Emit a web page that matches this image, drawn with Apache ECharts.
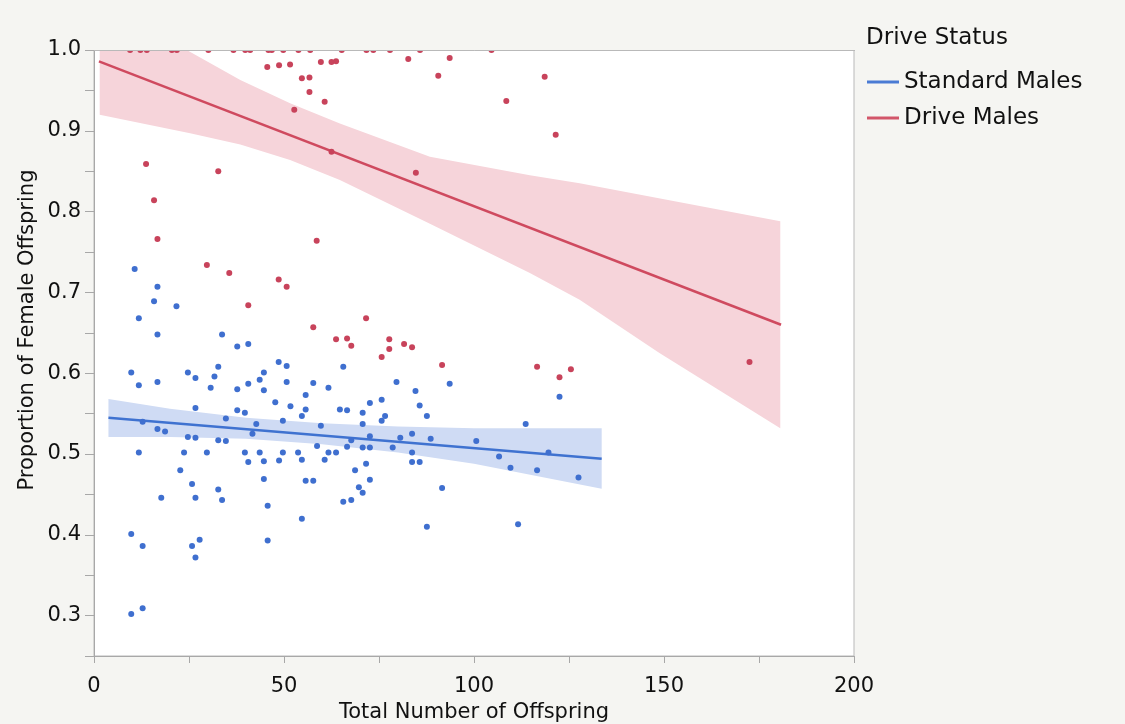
<!DOCTYPE html>
<html>
<head>
<meta charset="utf-8">
<title>Proportion of Female Offspring vs Total Number of Offspring</title>
<script src="https://cdn.jsdelivr.net/npm/echarts@6/dist/echarts.min.js"></script>
<style>
  html, body { margin: 0; padding: 0; background: #f5f5f2; }
  #chart { width: 1125px; height: 724px; }
</style>
</head>
<body>
<div id="chart"></div>
<script>
// Tick values
const xLabelTicks = [0, 50, 100, 150, 200];
const xTickMarks = [0, 25, 50, 75, 100, 125, 150, 175, 200];
const yLabelTicks = [0.3, 0.4, 0.5, 0.6, 0.7, 0.8, 0.9, 1.0];
const yTickMarks = [0.25, 0.3, 0.35, 0.4, 0.45, 0.5, 0.55, 0.6, 0.65, 0.7, 0.75, 0.8, 0.85, 0.9, 0.95, 1.0];

// Group names
const groupNames = ['Standard Males', 'Drive Males'];

// Standard males: [total offspring, proportion female]
const standardMales = [
  [10.7, 0.729], [16.7, 0.707], [15.8, 0.689], [21.7, 0.683], [11.8, 0.668], [16.7, 0.648],
  [33.7, 0.648], [37.7, 0.633], [40.6, 0.636], [48.6, 0.614], [50.7, 0.609], [65.6, 0.608],
  [9.8, 0.601], [11.8, 0.585], [16.7, 0.589], [24.7, 0.601], [26.7, 0.594], [32.7, 0.608],
  [31.7, 0.596], [30.7, 0.582], [37.7, 0.580], [40.6, 0.587], [44.7, 0.601], [43.6, 0.592],
  [44.7, 0.579], [50.7, 0.589], [57.7, 0.588], [61.7, 0.582], [55.7, 0.573], [47.7, 0.564],
  [51.7, 0.559], [55.7, 0.555], [54.7, 0.547], [26.7, 0.557], [37.7, 0.554], [39.7, 0.551],
  [34.7, 0.544], [12.8, 0.540], [16.7, 0.531], [18.7, 0.528], [42.7, 0.537], [41.7, 0.525],
  [49.7, 0.541], [59.7, 0.535], [64.7, 0.555], [66.6, 0.554], [72.6, 0.563], [70.7, 0.551],
  [70.7, 0.537], [75.7, 0.541], [67.7, 0.517], [72.6, 0.522], [24.7, 0.521], [26.7, 0.520],
  [32.7, 0.517], [34.7, 0.516], [11.8, 0.502], [23.7, 0.502], [29.7, 0.502], [39.7, 0.502],
  [43.6, 0.502], [49.7, 0.502], [53.7, 0.502], [58.7, 0.510], [61.7, 0.502], [63.7, 0.502],
  [66.6, 0.509], [70.7, 0.508], [72.6, 0.508], [40.6, 0.490], [44.7, 0.491], [48.7, 0.492],
  [54.7, 0.493], [60.7, 0.493], [71.6, 0.488], [22.7, 0.480], [68.7, 0.480], [44.7, 0.469],
  [55.7, 0.467], [57.7, 0.467], [72.6, 0.468], [25.8, 0.463], [26.7, 0.446], [17.7, 0.446],
  [32.7, 0.456], [33.7, 0.443], [45.7, 0.436], [69.7, 0.459], [70.7, 0.452], [65.6, 0.441],
  [67.7, 0.443], [54.7, 0.420], [9.8, 0.401], [12.8, 0.386], [25.8, 0.386], [27.8, 0.394],
  [26.7, 0.372], [45.7, 0.393], [9.8, 0.302], [12.8, 0.309], [79.6, 0.589], [93.6, 0.587],
  [84.6, 0.578], [75.7, 0.567], [85.7, 0.560], [76.6, 0.547], [87.6, 0.547], [113.6, 0.537],
  [122.5, 0.571], [83.7, 0.525], [80.6, 0.520], [88.6, 0.519], [100.6, 0.516], [78.6, 0.508],
  [83.7, 0.502], [119.6, 0.502], [106.6, 0.497], [83.7, 0.490], [85.7, 0.490], [109.6, 0.483],
  [116.6, 0.480], [127.5, 0.471], [91.6, 0.458], [87.6, 0.410], [111.6, 0.413]
];

// Drive males: [total offspring, proportion female]
const driveMales = [
  [45.6, 0.979], [48.7, 0.981], [51.6, 0.982], [54.7, 0.965], [56.7, 0.966], [56.7, 0.948],
  [52.7, 0.926], [59.7, 0.985], [62.5, 0.985], [63.7, 0.986], [60.7, 0.936], [62.5, 0.874],
  [82.7, 0.989], [90.6, 0.968], [93.6, 0.990], [13.7, 0.859], [32.7, 0.850], [15.8, 0.814],
  [84.7, 0.848], [118.6, 0.967], [108.5, 0.937], [121.5, 0.895], [16.7, 0.766], [58.6, 0.764],
  [29.7, 0.734], [35.6, 0.724], [48.6, 0.716], [50.7, 0.707], [40.6, 0.684], [71.6, 0.668],
  [57.7, 0.657], [63.7, 0.642], [66.6, 0.643], [67.7, 0.634], [77.7, 0.642], [77.7, 0.630],
  [75.7, 0.620], [81.6, 0.636], [83.7, 0.632], [91.6, 0.610], [116.6, 0.608], [122.5, 0.595],
  [125.5, 0.605], [172.5, 0.614],
  [9.5, 1.0], [12.2, 1.0], [13.9, 1.0], [20.5, 1.0], [21.8, 1.0], [30.1, 1.0], [36.7, 1.0],
  [39.8, 1.0], [41.1, 1.0], [45.9, 1.0], [46.8, 1.0], [49.8, 1.0], [53.8, 1.0], [56.9, 1.0],
  [65.2, 1.0], [71.7, 1.0], [73.5, 1.0], [77.9, 1.0], [85.8, 1.0], [104.6, 1.0]
];

// Fitted lines (end points)
const standardFit = [[3.8, 0.545], [133.6, 0.494]];
const driveFit = [[1.3, 0.986], [180.8, 0.660]];

// Confidence band edges
const standardUpper = [[3.8, 0.568], [20, 0.556], [40, 0.545], [60, 0.538], [80, 0.534], [100, 0.532], [133.6, 0.532]];
const standardLower = [[3.8, 0.521], [20, 0.521], [40, 0.519], [60, 0.512], [80, 0.502], [100, 0.488], [133.6, 0.457]];
const driveUpper = [[1.5, 1.05], [24.4, 1.0], [38.5, 0.963], [51.6, 0.934], [64.7, 0.909], [88.4, 0.868], [114.7, 0.845], [127.8, 0.835], [180.6, 0.788]];
const driveLower = [[1.5, 0.920], [25.3, 0.897], [38.5, 0.883], [51.6, 0.864], [64.7, 0.839], [88.4, 0.785], [114.7, 0.724], [127.8, 0.691], [148.8, 0.625], [180.6, 0.532]];

const BLUE = '#3f6fcf';
const RED = '#c8435b';
const FONT = 'DejaVu Sans';
const BG = '#f5f5f2';

function bandRenderer(upper, lower, fill) {
  return function (params, api) {
    const pts = upper.map(p => api.coord(p)).concat(lower.slice().reverse().map(p => api.coord(p)));
    return {
      type: 'polygon',
      shape: { points: pts },
      style: { fill: fill, stroke: null }
    };
  };
}

const chart = echarts.init(document.getElementById('chart'), null, { renderer: 'canvas' });

chart.setOption({
  backgroundColor: BG,
  animation: false,
  textStyle: { fontFamily: FONT },
  grid: {
    left: 94, right: 271, top: 50, bottom: 68,
    outerBoundsMode: 'none', containLabel: false,
    show: true, backgroundColor: '#ffffff', borderColor: '#b9b9b9', borderWidth: 1
  },
  title: {
    text: 'Drive Status',
    left: 861, top: 22,
    textStyle: { fontFamily: FONT, fontSize: 23, fontWeight: 'normal', color: '#111' }
  },
  legend: {
    orient: 'vertical',
    left: 862, top: 65,
    itemWidth: 32, itemHeight: 3, itemGap: 12,
    icon: 'rect',
    data: groupNames,
    textStyle: { fontFamily: FONT, fontSize: 23, color: '#111', lineHeight: 24 }
  },
  xAxis: {
    type: 'value', min: 0, max: 200, interval: 50,
    name: 'Total Number of Offspring', nameLocation: 'middle', nameGap: 45,
    nameTextStyle: { fontFamily: FONT, fontSize: 21, color: '#111' },
    axisLine: { show: true, lineStyle: { color: '#a8a8a8', width: 1 } },
    axisTick: { show: true, length: 7, customValues: xTickMarks, lineStyle: { color: '#a8a8a8' } },
    axisLabel: { customValues: xLabelTicks, margin: 20, fontFamily: FONT, fontSize: 21, color: '#111' },
    splitLine: { show: false }
  },
  yAxis: {
    type: 'value', min: 0.25, max: 1.0,
    axisLine: { show: true, lineStyle: { color: '#a8a8a8', width: 1 } },
    axisTick: { show: true, length: 9, customValues: yTickMarks, lineStyle: { color: '#a8a8a8' } },
    axisLabel: {
      customValues: yLabelTicks, margin: 13, fontFamily: FONT, fontSize: 21, color: '#111',
      formatter: v => v.toFixed(1)
    },
    splitLine: { show: false }
  },
  graphic: [
    // mask the area above the plot frame so marks at 1.0 are cut at the frame
    { type: 'rect', shape: { x: 94, y: 0, width: 761, height: 50 }, style: { fill: BG }, z: 100, silent: true },
    { type: 'line', shape: { x1: 94, y1: 50.5, x2: 855, y2: 50.5 }, style: { stroke: '#b9b9b9', lineWidth: 1 }, z: 101, silent: true },
    {
      type: 'text', x: 28, y: 330, rotation: Math.PI / 2, z: 101,
      style: {
        text: 'Proportion of Female Offspring', fontFamily: FONT, fontSize: 21, fill: '#111',
        align: 'center', verticalAlign: 'middle'
      }
    }
  ],
  series: [
    {
      type: 'custom', name: 'Drive band', clip: true, z: 1, silent: true,
      data: [[0, 0]],
      renderItem: bandRenderer(driveUpper, driveLower, '#f6d4da')
    },
    {
      type: 'custom', name: 'Standard band', clip: true, z: 1, silent: true,
      data: [[0, 0]],
      renderItem: bandRenderer(standardUpper, standardLower, '#cfdbf4')
    },
    {
      type: 'line', name: groupNames[0], data: standardFit, showSymbol: false, z: 2,
      itemStyle: { color: '#4a7bd4' }, lineStyle: { color: '#3f72d0', width: 2.5 }
    },
    {
      type: 'line', name: groupNames[1], data: driveFit, showSymbol: false, z: 2,
      itemStyle: { color: '#d2566a' }, lineStyle: { color: '#cf4a5f', width: 2.5 }
    },
    {
      type: 'scatter', name: 'Standard Males points', data: standardMales, z: 3,
      symbolSize: 6, itemStyle: { color: BLUE, opacity: 1 }
    },
    {
      type: 'scatter', name: 'Drive Males points', data: driveMales, z: 3,
      symbolSize: 6, itemStyle: { color: RED, opacity: 1 }
    }
  ]
});
</script>
</body>
</html>
